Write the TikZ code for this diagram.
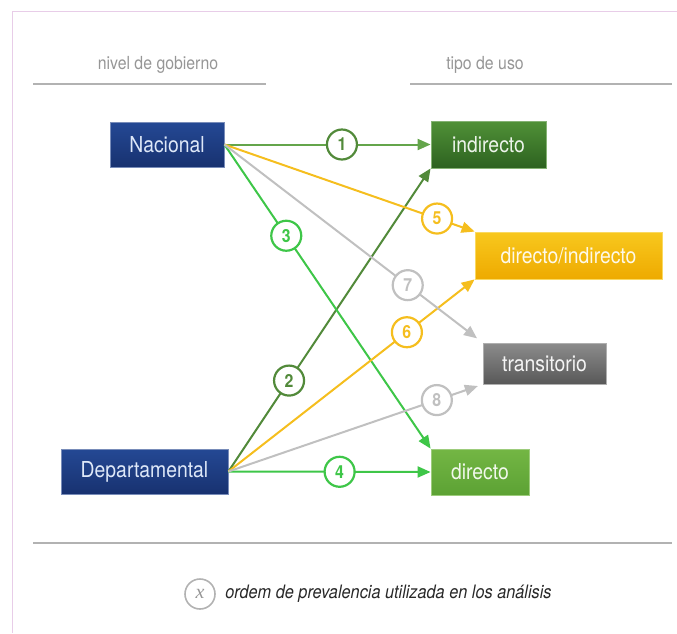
\documentclass[tikz,border=0pt]{standalone}
\usepackage{fontspec}
\setmainfont{TeX Gyre Heros}[FakeStretch=0.88]
\newfontfamily\keyfont{Liberation Serif}
\usetikzlibrary{arrows.meta}
\definecolor{govtop}{RGB}{36,72,148}
\definecolor{govbot}{RGB}{24,50,112}
\definecolor{govedge}{RGB}{120,140,185}
\definecolor{govtext}{RGB}{222,232,248}
\definecolor{indtop}{RGB}{80,145,55}
\definecolor{indbot}{RGB}{45,98,32}
\definecolor{dirindtop}{RGB}{248,200,30}
\definecolor{dirindbot}{RGB}{238,170,0}
\definecolor{trantop}{RGB}{140,140,140}
\definecolor{tranbot}{RGB}{88,88,88}
\definecolor{dirtop}{RGB}{115,182,68}
\definecolor{dirbot}{RGB}{92,162,52}
\definecolor{lgreen}{RGB}{100,165,75}
\definecolor{dgreen}{RGB}{82,138,58}
\definecolor{bgreen}{RGB}{62,198,72}
\definecolor{amber}{RGB}{245,190,30}
\definecolor{lgray}{RGB}{192,192,192}
\definecolor{headgray}{RGB}{150,150,150}
\definecolor{rulegray}{RGB}{178,178,178}
\definecolor{framepink}{RGB}{232,205,232}
\definecolor{legtext}{RGB}{40,40,40}

\begin{document}
\begin{tikzpicture}
	[x=1pt,y=-1pt,
	box/.style={rectangle,inner sep=0pt,minimum height=45pt,line width=.8pt,
		font=\fontsize{22}{22}\selectfont},
	govbox/.style={box,top color=govtop,bottom color=govbot,draw=govedge,text=govtext},
	usebox/.style 2 args={box,top color=#1top,bottom color=#1bot,draw=#1top!70!white,
		text=white!90!#1top,minimum width=#2},
	numcirc/.style={circle,draw=#1,text=#1,fill=white,line width=2.2pt,minimum size=30pt,
		inner sep=0pt,font=\fontsize{18}{18}\selectfont\bfseries},
	link/.style={line width=2pt,draw=#1,-{Triangle[length=13pt,width=11pt]}},
	head/.style={font=\fontsize{18}{18}\selectfont,text=headgray},
	ruleline/.style={draw=rulegray,line width=2.4pt}]
	\useasboundingbox (0,0) rectangle (677,633);
	\draw[framepink,line width=.6pt] (12,633) |- (677,11);

	\node[head] (govhead) at (158,65) {nivel de gobierno};
	\node[head] (usehead) at (485,65) {tipo de uso};
	\draw[ruleline] (33,84) -- (266,84);
	\draw[ruleline] (410,84) -- (672,84);

	\node[govbox,minimum width=114pt] (nac) at (167,144.5) {Nacional};
	\node[govbox,minimum width=167pt] (dep) at (144.5,471.5) {Departamental};
	\node[usebox={ind}{115pt},minimum height=47pt] (ind) at (488.5,144.5) {indirecto};
	\node[usebox={dirind}{187pt},minimum height=47pt] (dirind) at (568.5,255.5) {directo/indirecto};
	\node[usebox={tran}{123pt},minimum height=41pt] (tran) at (544.5,363.5) {transitorio};
	\node[usebox={dir}{98pt},minimum height=46pt] (dir) at (480,472) {directo};

	\draw[link=lgreen] (nac.east) -- node[numcirc=dgreen,pos=.57] {1} (ind.west);
	\draw[link=dgreen] (dep.east) -- node[numcirc=dgreen,pos=.30] {2} (ind.south west);
	\draw[link=bgreen] (nac.east) -- node[numcirc=bgreen,pos=.30] {3} (dir.north west);
	\draw[link=bgreen] (dep.east) -- node[numcirc=bgreen,pos=.55] {4} (dir.west);
	\draw[link=amber] (nac.east) -- node[numcirc=amber,pos=.85] {5} (dirind.north west);
	\draw[link=amber] (dep.east) -- node[numcirc=amber,pos=.725] {6} (dirind.south west);
	\draw[link=lgray,shorten >=7pt] (nac.east) -- node[numcirc=lgray,pos=.71] {7} (tran.north west);
	\draw[link=lgray,shorten >=5pt] (dep.east) -- node[numcirc=lgray,pos=.82] {8} (tran.south west);

	\draw[ruleline,line width=2pt] (33,543) -- (672,543);
	\node[circle,draw=rulegray,line width=1.6pt,minimum size=30pt,inner sep=0pt,text=headgray,
		font=\keyfont\fontsize{20}{20}\selectfont\itshape] (key) at (200,594) {x};
	\node[anchor=west,text=legtext,font=\fontsize{18.5}{18.5}\selectfont\itshape] (keytext)
		at ([xshift=6pt]key.east) {ordem de prevalencia utilizada en los análisis};
\end{tikzpicture}
\end{document}
